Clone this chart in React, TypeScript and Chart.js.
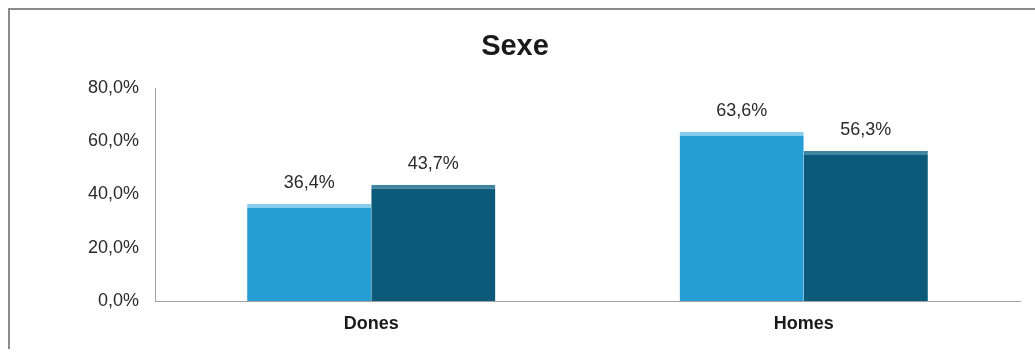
import React, { useEffect, useRef } from "react";
import { Chart, registerables } from "chart.js";

Chart.register(...registerables);

const categories = ["Dones", "Homes"];
const seriesA = [36.4, 63.6];
const seriesB = [43.7, 56.3];
const yTickValues = [0, 20, 40, 60, 80];
const titleText = "Sexe";

const FONT = "'Liberation Sans', Arial, Helvetica, sans-serif";

const fmt = (v: number) => v.toFixed(1).replace(".", ",") + "%";

const valueLabels = {
  id: "valueLabels",
  afterDatasetsDraw(chart: any) {
    const ctx = chart.ctx;
    ctx.save();
    ctx.font = `18px ${FONT}`;
    ctx.fillStyle = "#2a2a2a";
    ctx.textAlign = "center";
    ctx.textBaseline = "middle";
    chart.data.datasets.forEach((ds: any, di: number) => {
      const meta = chart.getDatasetMeta(di);
      meta.data.forEach((bar: any, i: number) => {
        ctx.fillText(fmt(ds.data[i]), bar.x, bar.y - 21);
      });
    });
    ctx.restore();
  },
};

export default function App() {
  const ref = useRef<HTMLCanvasElement | null>(null);

  useEffect(() => {
    if (!ref.current) return;
    const chart = new Chart(ref.current, {
      type: "bar",
      data: {
        labels: categories,
        datasets: [
          {
            label: "A",
            data: seriesA,
            backgroundColor: "#279dd6",
            borderColor: "#86cdee",
            borderWidth: { top: 4, left: 0, right: 0, bottom: 0 },
            borderSkipped: false,
            categoryPercentage: 0.574,
            barPercentage: 1.0,
          },
          {
            label: "B",
            data: seriesB,
            backgroundColor: "#0c5a7a",
            borderColor: "#3f859f",
            borderWidth: { top: 4, left: 0, right: 0, bottom: 0 },
            borderSkipped: false,
            categoryPercentage: 0.574,
            barPercentage: 1.0,
          },
        ],
      },
      options: {
        responsive: false,
        animation: false,
        layout: { padding: { top: 0, right: 15, left: 0, bottom: 0 } },
        plugins: {
          legend: { display: false },
          tooltip: { enabled: false },
          title: {
            display: true,
            text: titleText,
            color: "#1a1a1a",
            font: { family: FONT, size: 29, weight: "bold" },
            padding: { top: 20, bottom: 23.2 },
          },
        },
        scales: {
          x: {
            grid: { display: false, drawTicks: false },
            border: { display: true, color: "#a0a0a0", width: 1 },
            ticks: {
              color: "#1a1a1a",
              font: { family: FONT, size: 18, weight: "bold" },
              padding: 12,
            },
            afterFit(scale: any) {
              scale.height = 48;
            },
          },
          y: {
            min: 0,
            max: 80,
            grid: { display: false, drawTicks: false },
            border: { display: true, color: "#a0a0a0", width: 1 },
            afterBuildTicks(scale: any) {
              scale.ticks = yTickValues.map((v) => ({ value: v }));
            },
            ticks: {
              color: "#2a2a2a",
              font: { family: FONT, size: 18 },
              padding: 16,
              callback: (v: any) => fmt(Number(v)),
            },
            afterFit(scale: any) {
              scale.width = 145;
            },
          },
        },
      },
      plugins: [valueLabels],
    });
    return () => chart.destroy();
  }, []);

  return (
    <div
      style={{
        position: "absolute",
        left: 8,
        top: 8,
        width: 1027,
        height: 341,
        boxSizing: "border-box",
        borderTop: "2px solid #8c8c8c",
        borderLeft: "2px solid #8c8c8c",
        background: "#ffffff",
      }}
    >
      <canvas ref={ref} width={1025} height={339} style={{ display: "block" }} />
    </div>
  );
}
